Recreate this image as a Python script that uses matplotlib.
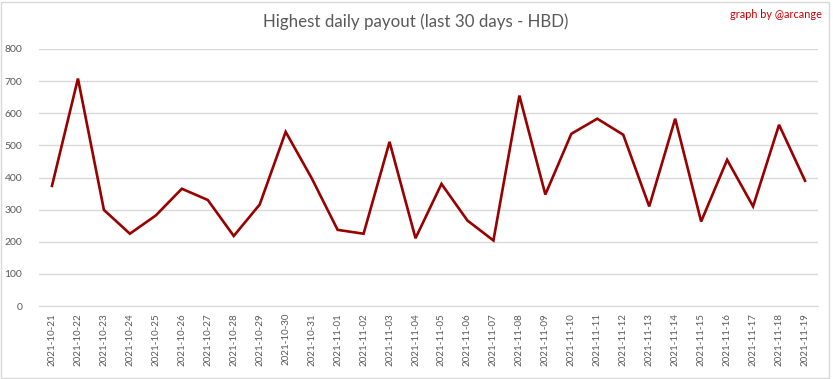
import matplotlib
matplotlib.use("Agg")
import matplotlib.pyplot as plt
from matplotlib.patches import Rectangle

# --- Data ---
dates = [
    "2021-10-21", "2021-10-22", "2021-10-23", "2021-10-24", "2021-10-25",
    "2021-10-26", "2021-10-27", "2021-10-28", "2021-10-29", "2021-10-30",
    "2021-10-31", "2021-11-01", "2021-11-02", "2021-11-03", "2021-11-04",
    "2021-11-05", "2021-11-06", "2021-11-07", "2021-11-08", "2021-11-09",
    "2021-11-10", "2021-11-11", "2021-11-12", "2021-11-13", "2021-11-14",
    "2021-11-15", "2021-11-16", "2021-11-17", "2021-11-18", "2021-11-19",
]
payout = [
    374, 708, 299, 225, 282, 365, 330, 218, 316, 542,
    398, 237, 225, 511, 211, 380, 266, 204, 655, 347,
    536, 583, 533, 310, 583, 263, 455, 310, 564, 390,
]
y_ticks = [0, 100, 200, 300, 400, 500, 600, 700, 800]

# --- Plot ---
plt.rcParams['font.family'] = ['Lato', 'DejaVu Sans']
W, H = 833, 379
fig = plt.figure(figsize=(W / 100, H / 100), dpi=100)

# axes box in pixels: left 39, right 818, top 49, bottom 306
ax = fig.add_axes([39 / W, 1 - 306 / H, (818 - 39) / W, (306 - 49) / H])

x = list(range(len(dates)))
ax.plot(x, payout, color='#990000', linewidth=1.9, solid_joinstyle='miter')

ax.set_xlim(-0.5, len(dates) - 0.5)
ax.set_ylim(0, 800)
ax.set_yticks(y_ticks)
ax.set_xticks(x)
ax.set_xticklabels(dates, rotation=90, fontsize=7, color='#595959')
ax.tick_params(axis='y', labelsize=7.5, labelcolor='#595959', length=0, pad=12)
ax.tick_params(axis='x', length=0, pad=5)

ax.grid(axis='y', color='#d9d9d9', linewidth=1)
ax.set_axisbelow(True)
for side in ['top', 'right', 'left']:
    ax.spines[side].set_visible(False)
ax.spines['bottom'].set_color('#d9d9d9')

fig.text(416 / W, 1 - 22 / H, "Highest daily payout (last 30 days - HBD)",
         ha='center', va='center', fontsize=12.2, color='#595959')
fig.text(822 / W, 1 - 15 / H, "graph by @arcange",
         ha='right', va='center', fontsize=7.8, color='#cc0000')

# light outer border
fig.patches.append(Rectangle((0.5 / W, 1.5 / H), (W - 5) / W, (H - 3) / H,
                             transform=fig.transFigure, fill=False,
                             edgecolor='#d9d9d9', linewidth=1))

plt.savefig("out.png", dpi=100)
